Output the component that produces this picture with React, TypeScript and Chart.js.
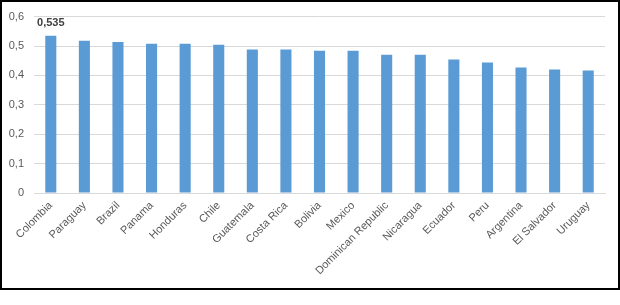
import React, { useEffect, useRef } from "react";
import { Chart, registerables } from "chart.js";

Chart.register(...registerables);

const categories = [
  "Colombia", "Paraguay", "Brazil", "Panama", "Honduras", "Chile", "Guatemala",
  "Costa Rica", "Bolivia", "Mexico", "Dominican Republic", "Nicaragua", "Ecuador",
  "Peru", "Argentina", "El Salvador", "Uruguay",
];
const values = [
  0.535, 0.518, 0.514, 0.508, 0.508, 0.504, 0.488, 0.488, 0.484, 0.484,
  0.47, 0.47, 0.454, 0.444, 0.427, 0.42, 0.417,
];
const labelledIndex = 0;
const labelText = "0,535";
const yMax = 0.6;
const yStep = 0.1;

const FONT = "'Liberation Sans', Arial, sans-serif";

const dataLabelPlugin = {
  id: "dataLabel",
  afterDatasetsDraw(chart: any) {
    const meta = chart.getDatasetMeta(0);
    const el = meta.data[labelledIndex];
    if (!el) return;
    const ctx = chart.ctx;
    ctx.save();
    ctx.font = `bold 11px ${FONT}`;
    ctx.fillStyle = "#404040";
    ctx.textAlign = "center";
    ctx.textBaseline = "middle";
    ctx.fillText(labelText, el.x, el.y - 13);
    ctx.restore();
  },
};

export default function App() {
  const ref = useRef<HTMLCanvasElement | null>(null);
  useEffect(() => {
    document.body.style.margin = "0";
    if (!ref.current) return;
    const chart = new Chart(ref.current, {
      type: "bar",
      data: {
        labels: categories,
        datasets: [
          {
            data: values,
            backgroundColor: "#5B9BD5",
            borderWidth: 0,
            categoryPercentage: 1,
            barPercentage: 0.33,
          },
        ],
      },
      options: {
        animation: false,
        responsive: false,
        maintainAspectRatio: false,
        devicePixelRatio: 1,
        layout: { padding: { left: 0, right: 15, top: 14, bottom: 0 } },
        plugins: {
          legend: { display: false },
          tooltip: { enabled: false },
        },
        scales: {
          x: {
            grid: { display: false, drawTicks: false },
            border: { display: true, color: "#D9D9D9", width: 1 },
            ticks: {
              color: "#595959",
              font: { family: FONT, size: 11 },
              maxRotation: 45,
              minRotation: 45,
              padding: 6,
              autoSkip: false,
            },
            afterFit(scale: any) {
              scale.height = 112;
            },
          },
          y: {
            min: 0,
            max: yMax,
            grid: { color: "#D9D9D9", drawTicks: false },
            border: { display: false },
            ticks: {
              stepSize: yStep,
              color: "#595959",
              font: { family: FONT, size: 11 },
              padding: 10,
              callback: (v: any) => String(Math.round(Number(v) * 10) / 10).replace(".", ","),
            },
            afterFit(scale: any) {
              scale.width = 34;
            },
          },
        },
      },
      plugins: [dataLabelPlugin],
    });
    return () => chart.destroy();
  }, []);

  return (
    <div style={{ position: "relative", width: 620, height: 305, background: "#fff" }}>
      <canvas ref={ref} width={620} height={305} style={{ position: "absolute", left: 0, top: 0 }} />
      <div
        style={{
          position: "absolute",
          left: 0,
          top: 0,
          width: 620,
          height: 290,
          border: "2px solid #000",
          boxSizing: "border-box",
          pointerEvents: "none",
        }}
      />
    </div>
  );
}
